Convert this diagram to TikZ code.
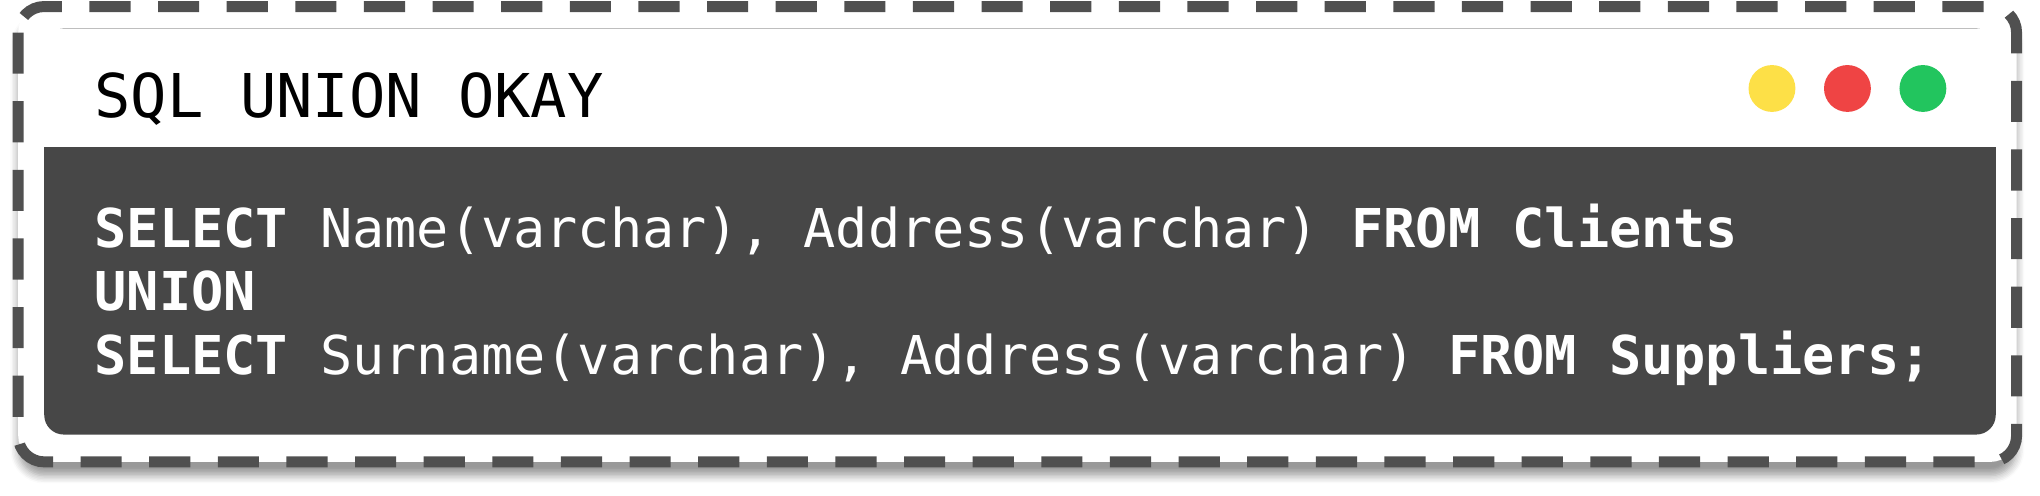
\documentclass[tikz,border=0pt]{standalone}
\usepackage{fontspec}
\setmonofont{DejaVu Sans Mono}
\usetikzlibrary{positioning}
\usetikzlibrary{shadows.blur}
\definecolor{codeBg}{HTML}{474747}
\definecolor{dotYellow}{HTML}{FDE047}
\definecolor{dotRed}{HTML}{EF4444}
\definecolor{dotGreen}{HTML}{22C55E}
\begin{document}
\begin{tikzpicture}[
    x=0.01cm, y=-0.01cm,
    codeLine/.style={
        anchor=base west, inner sep=0pt,
        text=white, font=\ttfamily\fontsize{11.7}{14}\selectfont
    },
    winDot/.style={
        circle, minimum size=0.36cm, inner sep=0pt
    }
]
\useasboundingbox (0,0) rectangle (1568,381);
% outer dashed frame
\draw[line width=2.4pt, dash pattern=on 9pt off 6pt, color=codeBg!95,
      rounded corners=0.2cm, fill=white, blur shadow={shadow blur steps=6, shadow xshift=0pt, shadow yshift=-3pt}]
    (14,5) rectangle (1550,355);
% window
\fill[codeBg, rounded corners=0.15cm] (34,22) rectangle (1534,334);
\fill[white] (34,22) rectangle (1534,113);
\node[anchor=base west, inner sep=0pt, font=\ttfamily\fontsize{13.2}{16}\selectfont] (title) at (72,90) {SQL UNION OKAY};
\node[winDot, fill=dotYellow] (yellow) at (1362,68) {};
\node[winDot, fill=dotRed] (red) at (1420,68) {};
\node[winDot, fill=dotGreen] (green) at (1478,68) {};
% code
\node[codeLine] (line1) at (72,190) {\textbf{SELECT} Name(varchar), Address(varchar) \textbf{FROM Clients}};
\node[codeLine] (line2) at (72,239) {\textbf{UNION}};
\node[codeLine] (line3) at (72,288) {\textbf{SELECT} Surname(varchar), Address(varchar) \textbf{FROM Suppliers;}};
\end{tikzpicture}
\end{document}
